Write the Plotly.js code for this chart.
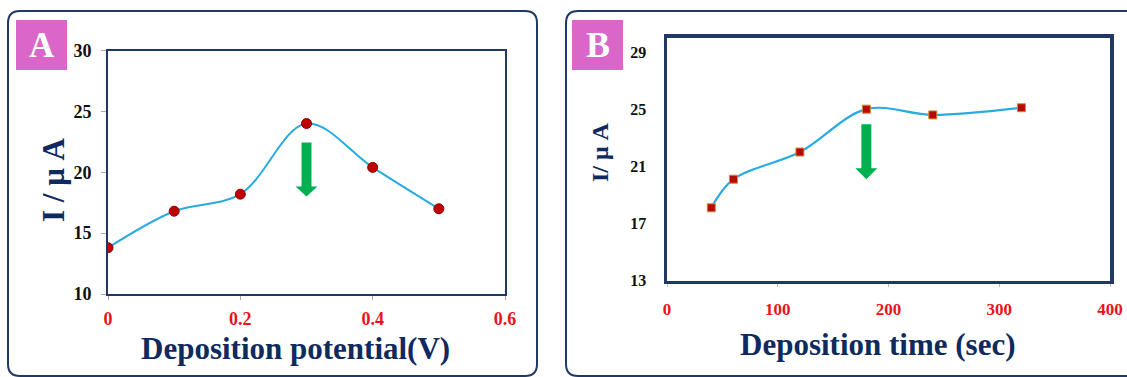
<!DOCTYPE html>
<html>
<head>
<meta charset="utf-8">
<script src="https://cdn.plot.ly/plotly-3.0.1.min.js"></script>
<style>
  html, body { margin: 0; padding: 0; background: #ffffff; }
  #chart { width: 1127px; height: 377px; }
</style>
</head>
<body>
<div id="chart"></div>
<script>
// ---- Data ----
const potentialV = [0, 0.1, 0.2, 0.3, 0.4, 0.5];
const currentA   = [13.8, 16.8, 18.2, 24.0, 20.4, 17.0];

const timeSec    = [40, 60, 120, 180, 240, 320];
const currentB   = [18.1, 20.1, 22.0, 25.0, 24.6, 25.1];

const panelLabels = ['A', 'B'];
const xTitleA = 'Deposition potential(V)';
const xTitleB = 'Deposition time (sec)';
const yTitleA = 'I / μ A';
const yTitleB = 'I/ μ A';

// ---- Style ----
const W = 1127, H = 377;
const SERIF = 'Liberation Serif, Times New Roman, serif';
const NAVY = '#1F3864';
const TITLE_NAVY = '#0E2A5E';
const LINE_BLUE = '#29ABE2';
const PINK = '#D966C8';
const GREEN = '#00B050';
const RED_TICK = '#E8141B';

const px = x => x / W;
const py = y => 1 - y / H;

function roundRect(l, t, r, b, rad) {
  const rx = rad, ry = rad;
  return 'M' + px(l + rx) + ',' + py(t) +
    ' L' + px(r - rx) + ',' + py(t) +
    ' Q' + px(r) + ',' + py(t) + ' ' + px(r) + ',' + py(t + ry) +
    ' L' + px(r) + ',' + py(b - ry) +
    ' Q' + px(r) + ',' + py(b) + ' ' + px(r - rx) + ',' + py(b) +
    ' L' + px(l + rx) + ',' + py(b) +
    ' Q' + px(l) + ',' + py(b) + ' ' + px(l) + ',' + py(b - ry) +
    ' L' + px(l) + ',' + py(t + ry) +
    ' Q' + px(l) + ',' + py(t) + ' ' + px(l + rx) + ',' + py(t) + ' Z';
}

// arrow path in pixels relative to an anchor (peak point), y positive upward
function arrowPath(top, headBase, tip) {
  return 'M-5,' + top + ' L5,' + top + ' L5,' + headBase + ' L11,' + headBase +
         ' L0,' + tip + ' L-11,' + headBase + ' L-5,' + headBase + ' Z';
}

const peakA = currentA.indexOf(Math.max(...currentA));
const peakB = 3;

const traces = [
  {
    x: potentialV, y: currentA, type: 'scatter', mode: 'lines+markers',
    xaxis: 'x', yaxis: 'y',
    line: { color: LINE_BLUE, width: 2, shape: 'spline', smoothing: 1 },
    marker: { symbol: 'circle', size: 10, color: '#C00000', line: { color: '#8B0000', width: 1 } },
    hoverinfo: 'x+y', showlegend: false
  },
  {
    x: timeSec, y: currentB, type: 'scatter', mode: 'lines+markers',
    xaxis: 'x2', yaxis: 'y2',
    line: { color: LINE_BLUE, width: 2.2, shape: 'spline', smoothing: 1 },
    marker: { symbol: 'square', size: 8, color: '#B50A00', line: { color: '#D4873A', width: 1 } },
    hoverinfo: 'x+y', showlegend: false
  }
];

const tickFontBlack = s => ({ family: SERIF, size: s, color: '#111111', weight: 700 });
const tickFontRed = s => ({ family: SERIF, size: s, color: RED_TICK, weight: 700 });

const layout = {
  width: W, height: H,
  margin: { l: 0, r: 0, t: 0, b: 0 },
  paper_bgcolor: '#ffffff',
  plot_bgcolor: '#ffffff',
  showlegend: false,
  xaxis: {
    domain: [px(108), px(505)], anchor: 'y',
    range: [0, 0.6], dtick: 0.2, tick0: 0,
    showgrid: false, zeroline: false,
    showline: true, linecolor: NAVY, linewidth: 2, mirror: true,
    ticks: 'outside', ticklen: 4, tickcolor: '#AAAAAA', tickwidth: 1,
    tickfont: tickFontRed(18), ticklabelstandoff: 3,
    fixedrange: true
  },
  yaxis: {
    domain: [py(294), py(50.5)], anchor: 'x',
    range: [10, 30], dtick: 5, tick0: 10,
    showgrid: false, zeroline: false,
    showline: true, linecolor: NAVY, linewidth: 2, mirror: true,
    ticks: 'outside', ticklen: 5, tickcolor: '#AAAAAA', tickwidth: 1,
    tickfont: tickFontBlack(18), ticklabelstandoff: 6,
    fixedrange: true
  },
  xaxis2: {
    domain: [px(667), px(1110)], anchor: 'y2',
    range: [0, 400], dtick: 100, tick0: 0,
    showgrid: false, zeroline: false,
    showline: true, linecolor: NAVY, linewidth: 3.5, mirror: true,
    ticks: 'outside', ticklen: 3, tickcolor: '#BBBBBB', tickwidth: 1,
    tickfont: tickFontRed(17), ticklabelstandoff: 7,
    fixedrange: true
  },
  yaxis2: {
    domain: [py(280.7), py(37.7)], anchor: 'x2',
    range: [13, 30], dtick: 4, tick0: 13,
    showgrid: false, zeroline: false,
    showline: true, linecolor: NAVY, linewidth: 3.5, mirror: true,
    ticks: '', tickfont: tickFontBlack(16), ticklabelstandoff: 14,
    fixedrange: true
  },
  shapes: [
    { type: 'path', xref: 'paper', yref: 'paper', path: roundRect(8, 11, 537, 376, 12),
      line: { color: NAVY, width: 2 }, fillcolor: 'rgba(0,0,0,0)', layer: 'below' },
    { type: 'path', xref: 'paper', yref: 'paper', path: roundRect(566, 11, 1150, 376, 12),
      line: { color: NAVY, width: 2 }, fillcolor: 'rgba(0,0,0,0)', layer: 'below' },
    { type: 'rect', xref: 'paper', yref: 'paper', x0: px(16), x1: px(67), y0: py(70), y1: py(20),
      line: { width: 0 }, fillcolor: PINK, layer: 'below' },
    { type: 'rect', xref: 'paper', yref: 'paper', x0: px(572), x1: px(623), y0: py(70), y1: py(20),
      line: { width: 0 }, fillcolor: PINK, layer: 'below' },
    { type: 'path', xref: 'x', yref: 'y', xsizemode: 'pixel', ysizemode: 'pixel',
      xanchor: potentialV[peakA], yanchor: currentA[peakA],
      path: arrowPath(-19, -63, -73), line: { width: 0 }, fillcolor: GREEN, layer: 'above' },
    { type: 'path', xref: 'x2', yref: 'y2', xsizemode: 'pixel', ysizemode: 'pixel',
      xanchor: timeSec[peakB], yanchor: currentB[peakB],
      path: arrowPath(-15, -59, -70), line: { width: 0 }, fillcolor: GREEN, layer: 'above' }
  ],
  annotations: [
    { text: panelLabels[0], xref: 'paper', yref: 'paper', x: px(41.5), y: py(45), xanchor: 'center', yanchor: 'middle',
      showarrow: false, font: { family: SERIF, size: 35, color: '#ffffff', weight: 700 } },
    { text: panelLabels[1], xref: 'paper', yref: 'paper', x: px(597.5), y: py(45), xanchor: 'center', yanchor: 'middle',
      showarrow: false, font: { family: SERIF, size: 36, color: '#ffffff', weight: 700 } },
    { text: yTitleA, xref: 'paper', yref: 'paper', x: px(53), y: py(180), xanchor: 'center', yanchor: 'middle',
      textangle: -90, showarrow: false, font: { family: SERIF, size: 31, color: TITLE_NAVY, weight: 700 } },
    { text: yTitleB, xref: 'paper', yref: 'paper', x: px(600), y: py(152), xanchor: 'center', yanchor: 'middle',
      textangle: -90, showarrow: false, font: { family: SERIF, size: 24, color: TITLE_NAVY, weight: 700 } },
    { text: xTitleA, xref: 'paper', yref: 'paper', x: px(295), y: py(348), xanchor: 'center', yanchor: 'middle',
      showarrow: false, font: { family: SERIF, size: 31, color: TITLE_NAVY, weight: 700 } },
    { text: xTitleB, xref: 'paper', yref: 'paper', x: px(878), y: py(344), xanchor: 'center', yanchor: 'middle',
      showarrow: false, font: { family: SERIF, size: 31, color: TITLE_NAVY, weight: 700 } }
  ]
};

Plotly.newPlot('chart', traces, layout, { displayModeBar: false, staticPlot: true });
</script>
</body>
</html>
